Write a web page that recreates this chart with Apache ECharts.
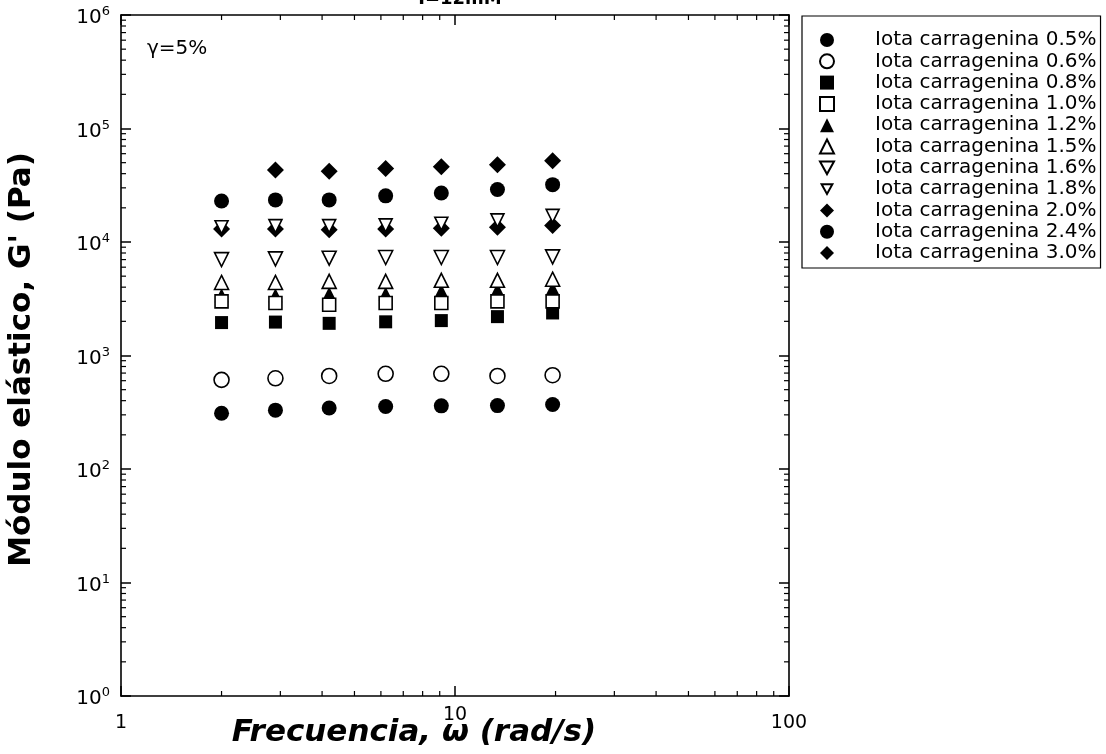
<!DOCTYPE html>
<html>
<head>
<meta charset="utf-8">
<script src="https://cdn.jsdelivr.net/npm/echarts@6/dist/echarts.min.js"></script>
<style>
html, body { margin: 0; background: #fff; }
#main { width: 1106px; height: 754px; }
</style>
</head>
<body>
<div id="main"></div>
<script>
// frecuencias (rad/s)
var freq = [2.0, 2.9, 4.2, 6.2, 9.1, 13.4, 19.6];

// G' (Pa) para cada concentracion
var g05 = [310, 330, 345, 355, 360, 362, 370];
var g06 = [610, 630, 660, 690, 690, 660, 670];
var g08 = [1950, 1970, 1920, 1980, 2030, 2200, 2370];
var g10 = [3000, 2900, 2800, 2900, 2900, 3000, 3000];
var g12 = [3400, 3400, 3500, 3500, 3700, 3800, 3900];
var g15 = [4400, 4400, 4500, 4500, 4600, 4600, 4700];
var g16 = [7000, 7100, 7200, 7300, 7300, 7300, 7400];
var g18 = [13500, 13800, 13800, 14000, 14500, 15500, 17000];
var g20 = [13000, 13000, 12800, 13000, 13200, 13500, 14000];
var g24 = [23000, 23500, 23500, 25500, 27000, 29000, 32000];
var g30 = [null, 43000, 42000, 44500, 46000, 48000, 52000];

var names = ['Iota carragenina 0.5%', 'Iota carragenina 0.6%', 'Iota carragenina 0.8%',
    'Iota carragenina 1.0%', 'Iota carragenina 1.2%', 'Iota carragenina 1.5%',
    'Iota carragenina 1.6%', 'Iota carragenina 1.8%', 'Iota carragenina 2.0%',
    'Iota carragenina 2.4%', 'Iota carragenina 3.0%'];
var values = [g05, g06, g08, g10, g12, g15, g16, g18, g20, g24, g30];

var xTicks = [1, 10, 100];
var yTicks = [1, 10, 100, 1000, 10000, 100000, 1000000];

// estilo de cada marcador: simbolo, tamaño, relleno, rotacion
var marks = [
    ['circle', 15, '#000', 0],
    ['circle', 15, '#fff', 0],
    ['rect', 13, '#000', 0],
    ['rect', 13, '#fff', 0],
    ['triangle', 14, '#000', 0],
    ['triangle', 14, '#fff', 0],
    ['triangle', 14, '#fff', 180],
    ['triangle', 13, '#fff', 180],
    ['diamond', 17, '#000', 0],
    ['circle', 15, '#000', 0],
    ['diamond', 17, '#000', 0]
];

// iconos de la leyenda (triangulos invertidos)
var downBig = 'path://M0,0L20,0L10,18Z';
var downSmall = 'path://M-3,-3M0,0L20,0L10,18ZM23,21';

var FONT = 'DejaVu Sans';

var chart = echarts.init(document.getElementById('main'));

var series = [];
var legendData = [];
for (var i = 0; i < names.length; i++) {
    var pts = [];
    for (var j = 0; j < freq.length; j++) {
        if (values[i][j] != null) pts.push([freq[j], values[i][j]]);
    }
    series.push({
        name: names[i],
        type: 'scatter',
        data: pts,
        symbol: marks[i][0],
        symbolSize: marks[i][1],
        symbolRotate: marks[i][3],
        z: marks[i][2] === '#fff' ? 3 : 2,
        itemStyle: {
            color: marks[i][2],
            borderColor: '#000',
            borderWidth: marks[i][2] === '#fff' ? 1.6 : 0,
            opacity: 1
        },
        emphasis: { disabled: true }
    });
    var item = { name: names[i] };
    if (i === 6) item.icon = downBig;
    if (i === 7) item.icon = downSmall;
    legendData.push(item);
}

function supLabel(v) {
    var e = Math.round(Math.log10(v));
    return '{b|10}{s|' + e + '}';
}

// el "10" del eje x queda algo mas arriba en el original
function xLabel(v) {
    return v === 10 ? '{up|' + v + '}' : '{n|' + v + '}';
}

var axisLine = { show: true, onZero: false, lineStyle: { color: '#000', width: 1.6 } };
var axisTick = { show: true, inside: true, length: 10, lineStyle: { color: '#000', width: 1.5 } };

var option = {
    animation: false,
    backgroundColor: '#fff',
    textStyle: { fontFamily: FONT },
    title: [
        {
            text: 'I=12mM',
            left: 455, top: -15, textAlign: 'center',
            textStyle: { fontFamily: FONT, fontSize: 18, fontWeight: 'bold', color: '#000' }
        },
        {
            text: 'γ=5%',
            left: 142, top: 34,
            textStyle: { fontFamily: FONT, fontSize: 20, fontWeight: 'normal', color: '#000' }
        }
    ],
    grid: { left: 121, top: 15, right: 317, bottom: 58, containLabel: false, outerBoundsMode: 'none' },
    legend: {
        orient: 'vertical',
        left: 802, top: 16,
        padding: [14, 4, 5, 17],
        itemWidth: 14, itemHeight: 14,
        itemGap: 1.3,
        borderColor: '#000', borderWidth: 1.2,
        selectedMode: false,
        data: legendData,
        formatter: function (n) { return '{n|' + n + '}'; },
        textStyle: {
            rich: {
                n: { fontFamily: FONT, fontSize: 20, lineHeight: 20, color: '#000', padding: [0, 0, 0, 36] }
            }
        }
    },
    xAxis: [
        {
            type: 'log', logBase: 10, min: xTicks[0], max: xTicks[xTicks.length - 1],
            position: 'bottom',
            name: 'Frecuencia, ω (rad/s)',
            nameLocation: 'middle', nameGap: 21, nameMoveOverlap: false,
            nameTextStyle: {
                fontFamily: FONT, fontSize: 31, fontWeight: 'bold', fontStyle: 'italic',
                color: '#000', verticalAlign: 'top', padding: [0, 82, 0, 0]
            },
            axisLine: axisLine, axisTick: axisTick,
            splitLine: { show: false },
            axisLabel: {
                show: true, margin: 10, formatter: xLabel,
                rich: {
                    n: { fontFamily: FONT, fontSize: 19, color: '#000', padding: [8, 0, 0, 0] },
                    up: { fontFamily: FONT, fontSize: 19, color: '#000' }
                }
            }
        },
        {
            type: 'log', logBase: 10, min: xTicks[0], max: xTicks[xTicks.length - 1],
            position: 'top',
            axisLine: axisLine, axisTick: axisTick,
            splitLine: { show: false },
            axisLabel: { show: false }
        }
    ],
    yAxis: [
        {
            type: 'log', logBase: 10, min: yTicks[0], max: yTicks[yTicks.length - 1],
            position: 'left',
            name: "Módulo elástico, G' (Pa)",
            nameLocation: 'middle', nameGap: 84, nameRotate: 90, nameMoveOverlap: false,
            nameTextStyle: { fontFamily: FONT, fontSize: 31, fontWeight: 'bold', color: '#000', padding: [0, 8, 0, 0] },
            axisLine: axisLine, axisTick: axisTick,
            splitLine: { show: false },
            axisLabel: {
                show: true, margin: 11,
                padding: [6, 0, 0, 0],
                formatter: supLabel,
                rich: {
                    b: { fontFamily: FONT, fontSize: 20, color: '#000' },
                    s: { fontFamily: FONT, fontSize: 13, color: '#000', padding: [0, 0, 12, 0] }
                }
            }
        },
        {
            type: 'log', logBase: 10, min: yTicks[0], max: yTicks[yTicks.length - 1],
            position: 'right',
            axisLine: axisLine, axisTick: axisTick,
            splitLine: { show: false },
            axisLabel: { show: false }
        }
    ],
    series: series
};

chart.setOption(option);

// ticks menores de las escalas logaritmicas (en las cuatro caras)
function minorTicks() {
    var els = [];
    var style = { stroke: '#000', lineWidth: 1.2 };
    var x0 = chart.convertToPixel({ xAxisIndex: 0 }, xTicks[0]);
    var x1 = chart.convertToPixel({ xAxisIndex: 0 }, xTicks[xTicks.length - 1]);
    var yb = chart.convertToPixel({ yAxisIndex: 0 }, yTicks[0]);
    var yt = chart.convertToPixel({ yAxisIndex: 0 }, yTicks[yTicks.length - 1]);
    for (var d = 0; d < xTicks.length - 1; d++) {
        for (var k = 2; k <= 9; k++) {
            var px = chart.convertToPixel({ xAxisIndex: 0 }, xTicks[d] * k);
            els.push({ type: 'line', silent: true, shape: { x1: px, y1: yb, x2: px, y2: yb - 5 }, style: style });
            els.push({ type: 'line', silent: true, shape: { x1: px, y1: yt, x2: px, y2: yt + 5 }, style: style });
        }
    }
    for (var e = 0; e < yTicks.length - 1; e++) {
        for (var m = 2; m <= 9; m++) {
            var py = chart.convertToPixel({ yAxisIndex: 0 }, yTicks[e] * m);
            els.push({ type: 'line', silent: true, shape: { x1: x0, y1: py, x2: x0 + 5, y2: py }, style: style });
            els.push({ type: 'line', silent: true, shape: { x1: x1, y1: py, x2: x1 - 5, y2: py }, style: style });
        }
    }
    chart.setOption({ graphic: els });
}
minorTicks();
</script>
</body>
</html>
